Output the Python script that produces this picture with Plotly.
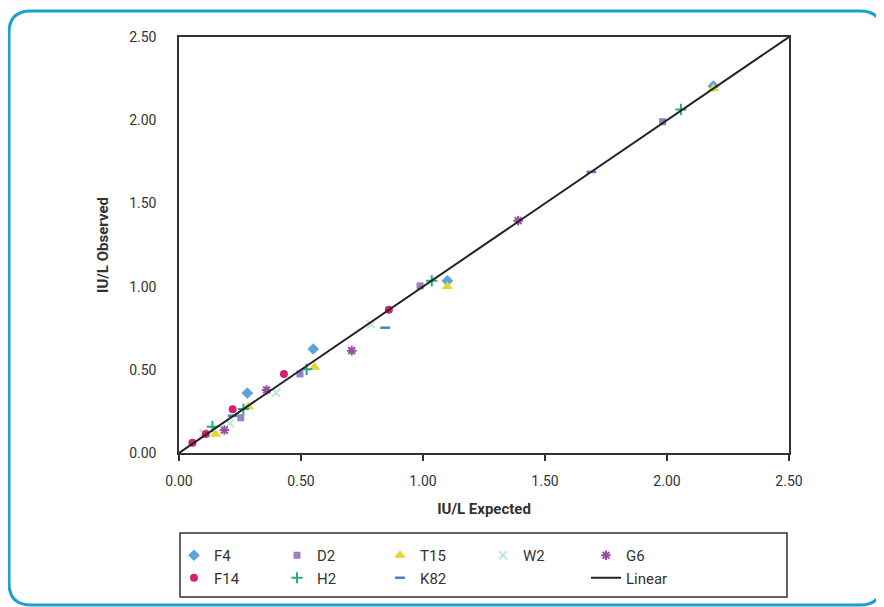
import plotly.graph_objects as go

# ---- data (IU/L expected vs observed) ----
f4_x = [0.28, 0.55, 1.10, 2.19]
f4_y = [0.36, 0.625, 1.035, 2.205]
f14_x = [0.055, 0.11, 0.22, 0.43, 0.86]
f14_y = [0.062, 0.114, 0.263, 0.475, 0.861]
d2_x = [0.253, 0.496, 0.988, 1.982]
d2_y = [0.212, 0.475, 1.004, 1.991]
t15_x = [0.15, 0.284, 0.555, 1.10, 2.19]
t15_y = [0.112, 0.278, 0.515, 1.0, 2.19]
w2_x = [0.10, 0.209, 0.398, 0.787]
w2_y = [0.12, 0.178, 0.362, 0.773]
g6_x = [0.186, 0.359, 0.708, 1.39]
g6_y = [0.138, 0.379, 0.615, 1.396]
h2_x = [0.137, 0.264, 0.523, 1.036, 2.057]
h2_y = [0.158, 0.264, 0.503, 1.035, 2.065]
k82_x = [0.22, 0.845, 1.69]
k82_y = [0.224, 0.753, 1.689]
lin_x = [0.0, 2.5]
lin_y = [0.0, 2.5]
tick_vals = [0, 0.5, 1.0, 1.5, 2.0, 2.5]
tick_text = ["0.00", "0.50", "1.00", "1.50", "2.00", "2.50"]

FONT = "Roboto, Liberation Sans Narrow, Arial Narrow, sans-serif"
OFF = 8  # page body margin
W, H = 884 - OFF, 607 - OFF
L, T = 179 - OFF, 37 - OFF
R = W - (789 - OFF)
B = H - (453 - OFF)
PW, PH = W - L - R, H - T - B


def xp(px):  # reference pixel -> paper
    return (px - OFF - L) / PW


def yp(py):
    return (H - B - (py - OFF)) / PH


def xc(px):  # reference pixel -> container
    return (px - OFF) / W


def yc(py):
    return 1 - (py - OFF) / H


fig = go.Figure()
series = [
    ("F4", f4_x, f4_y, dict(symbol="diamond", size=9, color="#5aa4da")),
    ("D2", d2_x, d2_y, dict(symbol="square", size=7, color="#9c7fc0")),
    ("T15", t15_x, t15_y, dict(symbol="triangle-up", size=10, color="#e2d630")),
    ("W2", w2_x, w2_y, dict(symbol="x-thin", size=8, color="#bde5da", line=dict(width=2, color="#bde5da"))),
    ("G6", g6_x, g6_y, dict(symbol="asterisk", size=8, color="#9a4fa2", line=dict(width=2, color="#9a4fa2"))),
    ("F14", f14_x, f14_y, dict(symbol="circle", size=8, color="#d4206f")),
    ("H2", h2_x, h2_y, dict(symbol="cross-thin", size=8, color="#28a98b", line=dict(width=2, color="#28a98b"))),
    ("K82", k82_x, k82_y, dict(symbol="line-ew", size=7, color="#4a80c2", line=dict(width=2.5, color="#4a80c2"))),
]
for name, xs, ys, mk in series:
    fig.add_trace(go.Scatter(x=xs, y=ys, mode="markers", name=name, marker=mk))

# blank legend slot
fig.add_trace(go.Scatter(x=[None], y=[None], mode="markers", name=" ",
                         marker=dict(color="rgba(0,0,0,0)", size=1,
                                     line=dict(width=0)),
                         hoverinfo="skip"))
fig.add_trace(go.Scatter(x=lin_x, y=lin_y, mode="lines", name="Linear",
                         line=dict(color="#222222", width=2)))

axis_common = dict(range=[0, 2.5], tickvals=tick_vals, ticktext=tick_text,
                   showgrid=False, zeroline=False, showline=True, mirror=True,
                   linecolor="#333333", linewidth=1.5,
                   tickfont=dict(family=FONT, size=14, color="#333333"))
fig.update_xaxes(**axis_common, ticks="outside", ticklen=6, tickcolor="#333333",
                 tickwidth=1.5, ticklabelstandoff=8,
                 title=dict(text="<b>IU/L Expected</b>", standoff=16,
                            font=dict(family=FONT, size=15, color="#333333")))
fig.update_yaxes(**axis_common, ticks="", ticklabelstandoff=18,
                 title=dict(text="<b>IU/L Observed</b>", standoff=17,
                            font=dict(family=FONT, size=15, color="#333333")))

# outer rounded border (cyan) and legend box
x0, x1, y0, y1, r = xp(9), xp(882), yp(11), yp(605), 22
rx, ry = r / PW, r / PH
path = (f"M {x0+rx},{y0} L {x1-rx},{y0} Q {x1},{y0} {x1},{y0-ry} "
        f"L {x1},{y1+ry} Q {x1},{y1} {x1-rx},{y1} "
        f"L {x0+rx},{y1} Q {x0},{y1} {x0},{y1+ry} "
        f"L {x0},{y0-ry} Q {x0},{y0} {x0+rx},{y0} Z")
shapes = [
    dict(type="path", xref="paper", yref="paper", path=path,
         line=dict(color="#1aa0d2", width=3), layer="below"),
    dict(type="rect", xref="paper", yref="paper", x0=xp(180), x1=xp(787),
         y0=yp(533), y1=yp(597), line=dict(color="#333333", width=1.5)),
]

fig.update_layout(
    width=W, height=H,
    margin=dict(l=L, r=R, t=T, b=B, autoexpand=False),
    paper_bgcolor="white", plot_bgcolor="white",
    font=dict(family=FONT, color="#333333"),
    shapes=shapes,
    showlegend=True,
    legend=dict(orientation="h", xref="container", yref="container",
                x=xc(174), y=yc(539), xanchor="left", yanchor="top",
                entrywidth=58, entrywidthmode="pixels", bgcolor="rgba(0,0,0,0)",
                borderwidth=0, font=dict(family=FONT, size=15, color="#333333"),
                traceorder="normal"),
)

fig.write_html("out.html")
